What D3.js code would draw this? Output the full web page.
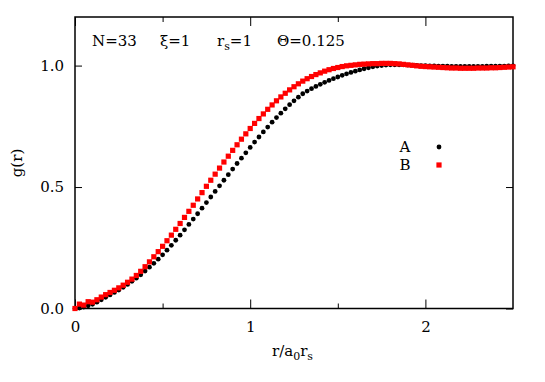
<!DOCTYPE html>
<html>
<head>
<meta charset="utf-8">
<script src="https://cdn.jsdelivr.net/npm/d3@7"></script>
<style>
  body { margin: 0; background: #fff; }
  svg text { font-family: "DejaVu Serif", serif; fill: #000; }
</style>
</head>
<body>
<div id="chart"></div>
<script>
// r / a0 rs sampling grid
var rValues = [
  0.000, 0.025, 0.050, 0.075, 0.100, 0.125, 0.150, 0.175, 0.200, 0.225,
  0.250, 0.275, 0.300, 0.325, 0.350, 0.375, 0.400, 0.425, 0.450, 0.475,
  0.500, 0.525, 0.550, 0.575, 0.600, 0.625, 0.650, 0.675, 0.700, 0.725,
  0.750, 0.775, 0.800, 0.825, 0.850, 0.875, 0.900, 0.925, 0.950, 0.975,
  1.000, 1.025, 1.050, 1.075, 1.100, 1.125, 1.150, 1.175, 1.200, 1.225,
  1.250, 1.275, 1.300, 1.325, 1.350, 1.375, 1.400, 1.425, 1.450, 1.475,
  1.500, 1.525, 1.550, 1.575, 1.600, 1.625, 1.650, 1.675, 1.700, 1.725,
  1.750, 1.775, 1.800, 1.825, 1.850, 1.875, 1.900, 1.925, 1.950, 1.975,
  2.000, 2.025, 2.050, 2.075, 2.100, 2.125, 2.150, 2.175, 2.200, 2.225,
  2.250, 2.275, 2.300, 2.325, 2.350, 2.375, 2.400, 2.425, 2.450, 2.475,
  2.500
];

// series A (black dots)
var gA = [
  0.000, 0.002, 0.006, 0.011, 0.017, 0.026, 0.036, 0.046, 0.056, 0.066,
  0.076, 0.087, 0.099, 0.112, 0.125, 0.139, 0.154, 0.170, 0.186, 0.203,
  0.221, 0.240, 0.260, 0.281, 0.302, 0.324, 0.346, 0.368, 0.390, 0.413,
  0.436, 0.459, 0.482, 0.505, 0.528, 0.551, 0.574, 0.597, 0.619, 0.641,
  0.663, 0.685, 0.706, 0.727, 0.747, 0.767, 0.786, 0.804, 0.822, 0.839,
  0.855, 0.870, 0.884, 0.895, 0.905, 0.914, 0.923, 0.931, 0.939, 0.946,
  0.953, 0.960, 0.966, 0.972, 0.977, 0.982, 0.987, 0.991, 0.995, 0.998,
  1.000, 1.002, 1.003, 1.003, 1.003, 1.003, 1.002, 1.002, 1.001, 1.000,
  1.000, 0.999, 0.999, 0.998, 0.998, 0.998, 0.997, 0.997, 0.997, 0.997,
  0.997, 0.997, 0.997, 0.997, 0.998, 0.998, 0.998, 0.998, 0.998, 0.999,
  0.999
];

// series B (red squares)
var gB = [
  0.000, 0.018, 0.014, 0.028, 0.026, 0.036, 0.047, 0.057, 0.066, 0.075,
  0.085, 0.096, 0.108, 0.121, 0.136, 0.153, 0.172, 0.192, 0.213, 0.234,
  0.256, 0.279, 0.302, 0.326, 0.350, 0.375, 0.400, 0.425, 0.451, 0.477,
  0.503, 0.528, 0.553, 0.578, 0.603, 0.627, 0.651, 0.674, 0.697, 0.719,
  0.741, 0.762, 0.782, 0.801, 0.820, 0.838, 0.855, 0.871, 0.886, 0.900,
  0.913, 0.925, 0.936, 0.946, 0.955, 0.963, 0.970, 0.977, 0.983, 0.988,
  0.992, 0.996, 0.999, 1.001, 1.003, 1.005, 1.006, 1.007, 1.008, 1.008,
  1.009, 1.009, 1.009, 1.008, 1.007, 1.005, 1.003, 1.001, 0.999, 0.997,
  0.996, 0.995, 0.994, 0.993, 0.992, 0.991, 0.990, 0.990, 0.989, 0.989,
  0.989, 0.989, 0.990, 0.990, 0.990, 0.991, 0.991, 0.992, 0.993, 0.994,
  0.995
];

var xMajorTicks = [0, 1, 2],
    xMinorTicks = [0.5, 1.5],
    yTicks = [0, 0.5, 1.0],
    seriesNames = ["A", "B"];

var width = 545, height = 382;
var plotLeft = 75, plotRight = 513, plotTop = 17, plotBottom = 308.5;

var x = d3.scaleLinear().domain([0, 2.5]).range([plotLeft, plotRight]);
var y = d3.scaleLinear().domain([0, 1.2]).range([plotBottom, plotTop]);

var svg = d3.select("#chart").append("svg")
    .attr("width", width)
    .attr("height", height);

function styleAxis(g) {
  g.select(".domain").remove();
  g.selectAll(".tick line").attr("stroke", "#000").attr("stroke-width", 1);
  g.selectAll(".tick text")
    .style("font-family", "DejaVu Serif, serif")
    .style("font-size", "15px")
    .attr("fill", "#000");
}

// bottom axis, major with labels, minor without
svg.append("g")
    .attr("transform", "translate(0," + plotBottom + ")")
    .call(d3.axisBottom(x).tickValues(xMajorTicks).tickSize(-9).tickPadding(13).tickFormat(d3.format("d")))
    .call(styleAxis);
svg.append("g")
    .attr("transform", "translate(0," + plotBottom + ")")
    .call(d3.axisBottom(x).tickValues(xMinorTicks).tickSize(-5).tickFormat(""))
    .call(styleAxis);

// top mirror ticks
svg.append("g")
    .attr("transform", "translate(0," + plotTop + ")")
    .call(d3.axisTop(x).tickValues(xMajorTicks).tickSize(-9).tickFormat(""))
    .call(styleAxis);
svg.append("g")
    .attr("transform", "translate(0," + plotTop + ")")
    .call(d3.axisTop(x).tickValues(xMinorTicks).tickSize(-5).tickFormat(""))
    .call(styleAxis);

// left axis
svg.append("g")
    .attr("transform", "translate(" + plotLeft + ",0)")
    .call(d3.axisLeft(y).tickValues(yTicks).tickSize(-7).tickPadding(11).tickFormat(d3.format(".1f")))
    .call(styleAxis);

// right mirror ticks
svg.append("g")
    .attr("transform", "translate(" + plotRight + ",0)")
    .call(d3.axisRight(y).tickValues(yTicks).tickSize(-7).tickFormat(""))
    .call(styleAxis);

// frame
svg.append("rect")
    .attr("x", plotLeft)
    .attr("y", plotTop)
    .attr("width", plotRight - plotLeft)
    .attr("height", plotBottom - plotTop)
    .attr("fill", "none")
    .attr("stroke", "#000")
    .attr("stroke-width", 1.5);

// data points
var ptsA = rValues.map(function(r, i) { return [r, gA[i]]; });
var ptsB = rValues.map(function(r, i) { return [r, gB[i]]; });

var dotR = 2.4;
svg.append("g").selectAll("circle")
    .data(ptsA)
    .enter()
  .append("circle")
    .attr("cx", function(d) { return x(d[0]); })
    .attr("cy", function(d) { return y(d[1]); })
    .attr("r", dotR)
    .attr("fill", "#000");

var sq = 5.2;
svg.append("g").selectAll("rect")
    .data(ptsB)
    .enter()
  .append("rect")
    .attr("x", function(d) { return x(d[0]) - sq / 2; })
    .attr("y", function(d) { return y(d[1]) - sq / 2; })
    .attr("width", sq)
    .attr("height", sq)
    .attr("fill", "#ff0000");

// header
var header = svg.append("text")
    .attr("y", 46)
    .style("font-size", "15px");
header.append("tspan").attr("x", 92).text("N=33");
header.append("tspan").attr("x", 160).text("ξ=1");
header.append("tspan").attr("x", 217).text("r");
header.append("tspan").attr("dy", 4).style("font-size", "11px").text("s");
header.append("tspan").attr("dy", -4).text("=1");
header.append("tspan").attr("x", 277).text("Θ=0.125");

// legend
var legend = svg.append("g");
legend.append("text").attr("x", 405).attr("y", 152).attr("text-anchor", "middle")
    .style("font-size", "15px").text(seriesNames[0]);
legend.append("circle").attr("cx", 439).attr("cy", 147).attr("r", dotR).attr("fill", "#000");
legend.append("text").attr("x", 405).attr("y", 170).attr("text-anchor", "middle")
    .style("font-size", "15px").text(seriesNames[1]);
legend.append("rect").attr("x", 439 - sq / 2).attr("y", 165 - sq / 2)
    .attr("width", sq).attr("height", sq).attr("fill", "#ff0000");

// axis titles
var xt = svg.append("text")
    .attr("x", 272)
    .attr("y", 356)
    .style("font-size", "15px");
xt.append("tspan").text("r/a");
xt.append("tspan").attr("dy", 4).style("font-size", "11px").text("0");
xt.append("tspan").attr("dy", -4).text("r");
xt.append("tspan").attr("dy", 4).style("font-size", "11px").text("s");

svg.append("text")
    .attr("transform", "translate(22,163) rotate(-90)")
    .attr("text-anchor", "middle")
    .style("font-size", "15px")
    .text("g(r)");
</script>
</body>
</html>
